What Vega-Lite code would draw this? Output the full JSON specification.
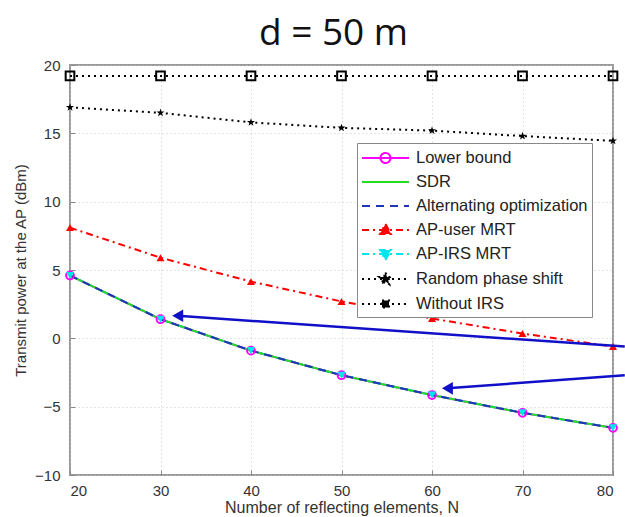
{
  "$schema": "https://vega.github.io/schema/vega-lite/v6.json",
  "width": 543,
  "height": 410,
  "autosize": {"type": "none"},
  "padding": {"left": 70, "top": 65, "right": 12, "bottom": 42},
  "background": "white",
  "title": {
    "text": "d = 50 m",
    "font": "Open Sans",
    "fontSize": 37,
    "fontWeight": "normal",
    "color": "#111",
    "anchor": "middle",
    "baseline": "alphabetic",
    "offset": 17,
    "dx": -8,
    "dy": 41
  },
  "config": {
    "view": {"stroke": "#999", "strokeWidth": 2},
    "axis": {
      "labelFont": "Liberation Sans",
      "labelFontSize": 15,
      "labelColor": "#333",
      "titleFont": "Liberation Sans",
      "titleFontWeight": "normal",
      "titleColor": "#333",
      "domain": false,
      "tickColor": "#888",
      "tickSize": -5,
      "grid": true,
      "gridColor": "#c8c8c8",
      "gridDash": [1, 3],
      "gridWidth": 1
    }
  },
  "datasets": {
    "curves": [
      {"N": 20, "series": "Without IRS", "P": 19.2},
      {"N": 30, "series": "Without IRS", "P": 19.2},
      {"N": 40, "series": "Without IRS", "P": 19.2},
      {"N": 50, "series": "Without IRS", "P": 19.2},
      {"N": 60, "series": "Without IRS", "P": 19.2},
      {"N": 70, "series": "Without IRS", "P": 19.2},
      {"N": 80, "series": "Without IRS", "P": 19.2},
      {"N": 20, "series": "Random phase shift", "P": 16.9},
      {"N": 30, "series": "Random phase shift", "P": 16.5},
      {"N": 40, "series": "Random phase shift", "P": 15.8},
      {"N": 50, "series": "Random phase shift", "P": 15.4},
      {"N": 60, "series": "Random phase shift", "P": 15.2},
      {"N": 70, "series": "Random phase shift", "P": 14.8},
      {"N": 80, "series": "Random phase shift", "P": 14.45},
      {"N": 20, "series": "AP-user MRT", "P": 8.1},
      {"N": 30, "series": "AP-user MRT", "P": 5.9},
      {"N": 40, "series": "AP-user MRT", "P": 4.15},
      {"N": 50, "series": "AP-user MRT", "P": 2.7},
      {"N": 60, "series": "AP-user MRT", "P": 1.45},
      {"N": 70, "series": "AP-user MRT", "P": 0.35},
      {"N": 80, "series": "AP-user MRT", "P": -0.6},
      {"N": 20, "series": "Lower bound", "P": 4.6},
      {"N": 30, "series": "Lower bound", "P": 1.4},
      {"N": 40, "series": "Lower bound", "P": -0.9},
      {"N": 50, "series": "Lower bound", "P": -2.7},
      {"N": 60, "series": "Lower bound", "P": -4.15},
      {"N": 70, "series": "Lower bound", "P": -5.45},
      {"N": 80, "series": "Lower bound", "P": -6.55},
      {"N": 20, "series": "AP-IRS MRT", "P": 4.6},
      {"N": 30, "series": "AP-IRS MRT", "P": 1.4},
      {"N": 40, "series": "AP-IRS MRT", "P": -0.9},
      {"N": 50, "series": "AP-IRS MRT", "P": -2.7},
      {"N": 60, "series": "AP-IRS MRT", "P": -4.15},
      {"N": 70, "series": "AP-IRS MRT", "P": -5.45},
      {"N": 80, "series": "AP-IRS MRT", "P": -6.55},
      {"N": 20, "series": "SDR", "P": 4.6},
      {"N": 30, "series": "SDR", "P": 1.4},
      {"N": 40, "series": "SDR", "P": -0.9},
      {"N": 50, "series": "SDR", "P": -2.7},
      {"N": 60, "series": "SDR", "P": -4.15},
      {"N": 70, "series": "SDR", "P": -5.45},
      {"N": 80, "series": "SDR", "P": -6.55},
      {"N": 20, "series": "Alternating optimization", "P": 4.6},
      {"N": 30, "series": "Alternating optimization", "P": 1.4},
      {"N": 40, "series": "Alternating optimization", "P": -0.9},
      {"N": 50, "series": "Alternating optimization", "P": -2.7},
      {"N": 60, "series": "Alternating optimization", "P": -4.15},
      {"N": 70, "series": "Alternating optimization", "P": -5.45},
      {"N": 80, "series": "Alternating optimization", "P": -6.55}
    ],
    "arrows": [
      {"N": 31.9, "P": 1.65, "N2": 81.3, "P2": -0.6},
      {"N": 61.7, "P": -3.66, "N2": 81.3, "P2": -2.7}
    ]
  },
  "layer": [
    {
      "data": {"name": "curves"},
      "mark": {"type": "line", "strokeWidth": 2, "clip": true},
      "encoding": {
        "x": {
          "field": "N", "type": "quantitative",
          "scale": {"domain": [20, 80], "nice": false, "zero": false},
          "axis": {"values": [20, 30, 40, 50, 60, 70, 80], "title": "Number of reflecting elements, N", "titleFontSize": 16, "titlePadding": 1, "labelPadding": 13}
        },
        "y": {
          "field": "P", "type": "quantitative",
          "scale": {"domain": [-10, 20], "nice": false, "zero": false},
          "axis": {"values": [-10, -5, 0, 5, 10, 15, 20], "title": "Transmit power at the AP (dBm)", "titleFontSize": 15, "titlePadding": 6, "labelPadding": 15}
        },
        "color": {
          "field": "series", "type": "nominal",
          "scale": {
            "domain": ["Lower bound", "SDR", "Alternating optimization", "AP-user MRT", "AP-IRS MRT", "Random phase shift", "Without IRS"],
            "range": ["#ff00ff", "#22dd22", "#2233bb", "#ff0000", "#00e5ee", "#000000", "#000000"]
          },
          "legend": {
            "title": null,
            "orient": "none",
            "legendX": 287,
            "legendY": 78,
            "symbolType": "stroke",
            "symbolSize": 400,
            "symbolStrokeWidth": 2,
            "symbolOffset": 13.5,
            "labelFont": "Liberation Sans",
            "labelFontSize": 16.5,
            "labelColor": "#222",
            "labelOffset": 19.5,
            "labelLimit": 260,
            "fillColor": "white",
            "strokeColor": "#888",
            "padding": 4,
            "rowPadding": 4,
            "encoding": {
              "symbols": {
                "shape": {"value": {"expr": "datum.value === 'Lower bound' ? 'M-2.35,0L2.35,0M0.5,0A0.5,0.5 0 1 1 -0.5,0A0.5,0.5 0 1 1 0.5,0' : datum.value === 'AP-user MRT' ? 'M-2.35,0L2.35,0M0,-0.6L0.55,0.4L-0.55,0.4Z' : datum.value === 'AP-IRS MRT' ? 'M-2.35,0L2.35,0M0,0.6L0.55,-0.4L-0.55,-0.4Z' : datum.value === 'Random phase shift' ? 'M-2.35,0L2.35,0M0,-0.65L0.153,-0.211L0.618,-0.201L0.247,0.081L0.382,0.526L0,0.26L-0.382,0.526L-0.247,0.081L-0.618,-0.201L-0.153,-0.211Z' : datum.value === 'Without IRS' ? 'M-2.35,0L2.35,0M-0.35,-0.35L0.35,-0.35L0.35,0.35L-0.35,0.35Z' : 'M-2.35,0L2.35,0'"}},
                "fill": {"value": {"expr": "datum.value === 'AP-user MRT' ? '#ff0000' : datum.value === 'AP-IRS MRT' ? '#00e5ee' : datum.value === 'Random phase shift' || datum.value === 'Without IRS' ? '#000000' : 'transparent'"}},
                "fillOpacity": {"value": {"expr": "datum.value === 'Lower bound' ? 0 : 1"}}
              }
            }
          }
        },
        "strokeDash": {
          "field": "series", "type": "nominal",
          "scale": {
            "domain": ["Lower bound", "SDR", "Alternating optimization", "AP-user MRT", "AP-IRS MRT", "Random phase shift", "Without IRS"],
            "range": [[1, 0], [1, 0], [8, 6], [7, 4, 2, 4], [7, 4, 2, 4], [2, 4], [2, 4]]
          },
          "legend": null
        }
      }
    },
    {
      "data": {"name": "curves"},
      "transform": [{"filter": {"field": "series", "oneOf": ["Lower bound", "Without IRS"]}}],
      "mark": {"type": "point", "filled": false, "opacity": 1, "strokeWidth": 2},
      "encoding": {
        "x": {"field": "N", "type": "quantitative"},
        "y": {"field": "P", "type": "quantitative"},
        "color": {"field": "series", "type": "nominal", "legend": null},
        "shape": {
          "field": "series", "type": "nominal",
          "scale": {
            "domain": ["Lower bound", "AP-user MRT", "AP-IRS MRT", "Random phase shift", "Without IRS"],
            "range": ["circle", "triangle-up", "triangle-down", "M0,-1L0.235,-0.324L0.951,-0.309L0.380,0.124L0.588,0.809L0,0.4L-0.588,0.809L-0.380,0.124L-0.951,-0.309L-0.235,-0.324Z", "square"]
          },
          "legend": null
        },
        "size": {
          "field": "series", "type": "nominal",
          "scale": {
            "domain": ["Lower bound", "AP-user MRT", "AP-IRS MRT", "Random phase shift", "Without IRS"],
            "range": [60, 75, 75, 400, 35]
          },
          "legend": null
        }
      }
    },
    {
      "data": {"name": "curves"},
      "transform": [{"filter": {"field": "series", "oneOf": ["AP-user MRT", "AP-IRS MRT", "Random phase shift"]}}],
      "mark": {"type": "point", "filled": true, "opacity": 1},
      "encoding": {
        "x": {"field": "N", "type": "quantitative"},
        "y": {"field": "P", "type": "quantitative"},
        "color": {"field": "series", "type": "nominal", "legend": null},
        "shape": {
          "field": "series", "type": "nominal",
          "scale": {
            "domain": ["Lower bound", "AP-user MRT", "AP-IRS MRT", "Random phase shift", "Without IRS"],
            "range": ["circle", "triangle-up", "triangle-down", "M0,-1L0.235,-0.324L0.951,-0.309L0.380,0.124L0.588,0.809L0,0.4L-0.588,0.809L-0.380,0.124L-0.951,-0.309L-0.235,-0.324Z", "square"]
          },
          "legend": null
        },
        "size": {
          "field": "series", "type": "nominal",
          "scale": {
            "domain": ["Lower bound", "AP-user MRT", "AP-IRS MRT", "Random phase shift", "Without IRS"],
            "range": [60, 75, 75, 400, 35]
          },
          "legend": null
        }
      }
    },
    {
      "data": {"name": "arrows"},
      "mark": {"type": "rule", "color": "#1010c8", "strokeWidth": 2.5},
      "encoding": {
        "x": {"field": "N", "type": "quantitative"},
        "x2": {"field": "N2"},
        "y": {"field": "P", "type": "quantitative"},
        "y2": {"field": "P2"}
      }
    },
    {
      "data": {"name": "arrows"},
      "mark": {"type": "point", "shape": "triangle-left", "filled": true, "color": "#1010c8", "opacity": 1, "size": 160},
      "encoding": {
        "x": {"field": "N", "type": "quantitative"},
        "y": {"field": "P", "type": "quantitative"}
      }
    }
  ]
}
